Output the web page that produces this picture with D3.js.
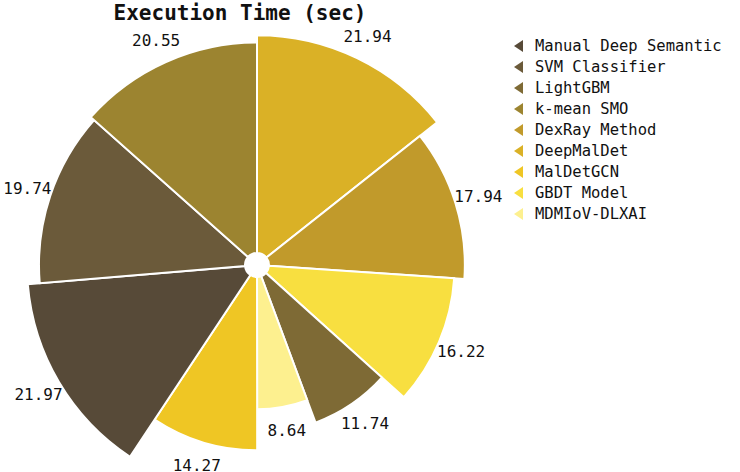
<!DOCTYPE html><html><head><meta charset="utf-8"><script src="https://cdn.jsdelivr.net/npm/d3@7"></script>
<style>body{margin:0;background:#fff}</style></head><body><svg id="c" width="740" height="472"></svg>
<script>
const categories=["Manual Deep Semantic","SVM Classifier","LightGBM","k-mean SMO","DexRay Method","DeepMalDet","MalDetGCN","GBDT Model","MDMIoV-DLXAI"];
const values=[21.97,19.74,11.74,20.55,17.94,21.94,14.27,16.22,8.64];
const colors=["#574a38","#6b5a3a","#7e6a35","#9c8430","#c19a2b","#dab126","#efc624","#f8df40","#fdf08f"];
const svg=d3.select("#c"),font="DejaVu Sans Mono";
const data=categories.map((c,i)=>({c,v:values[i],col:colors[i]}));
const sorted=data.slice().sort((a,b)=>a.c<b.c?-1:a.c>b.c?1:0);
const pie=d3.pie().sort(null).value(d=>d.v);
const r=d3.scaleSqrt().domain([0,d3.max(values)]).range([0,230]);
const g=svg.append("g").attr("transform","translate(257,265)");
const arcs=pie(sorted);
g.selectAll("path").data(arcs).join("path")
 .attr("d",d=>d3.arc().innerRadius(12).outerRadius(r(d.data.v))(d))
 .attr("fill",d=>d.data.col).attr("stroke","#fff").attr("stroke-width",2);
g.selectAll("text").data(arcs).join("text")
 .attr("transform",d=>{const a=(d.startAngle+d.endAngle)/2,R=r(d.data.v)+24;return `translate(${Math.sin(a)*R},${-Math.cos(a)*R})`;})
 .attr("text-anchor","middle").attr("dominant-baseline","central")
 .attr("font-family",font).attr("font-size",16).attr("fill","#111").text(d=>d.data.v.toFixed(2));
svg.append("text").attr("x",240).attr("y",20).attr("text-anchor","middle").attr("font-family",font)
 .attr("font-weight","bold").attr("font-size",21).attr("fill","#111").text("Execution Time (sec)");
const lg=svg.append("g").attr("transform","translate(0,46)");
const row=lg.selectAll("g").data(data).join("g").attr("transform",(d,i)=>`translate(0,${i*21})`);
row.append("path").attr("d","M514,0 L523,-6 L523,6 Z").attr("fill",d=>d.col);
row.append("text").attr("x",535).attr("dominant-baseline","central").attr("font-family",font)
 .attr("font-size",15.5).attr("fill","#111").text(d=>d.c);
</script></body></html>
